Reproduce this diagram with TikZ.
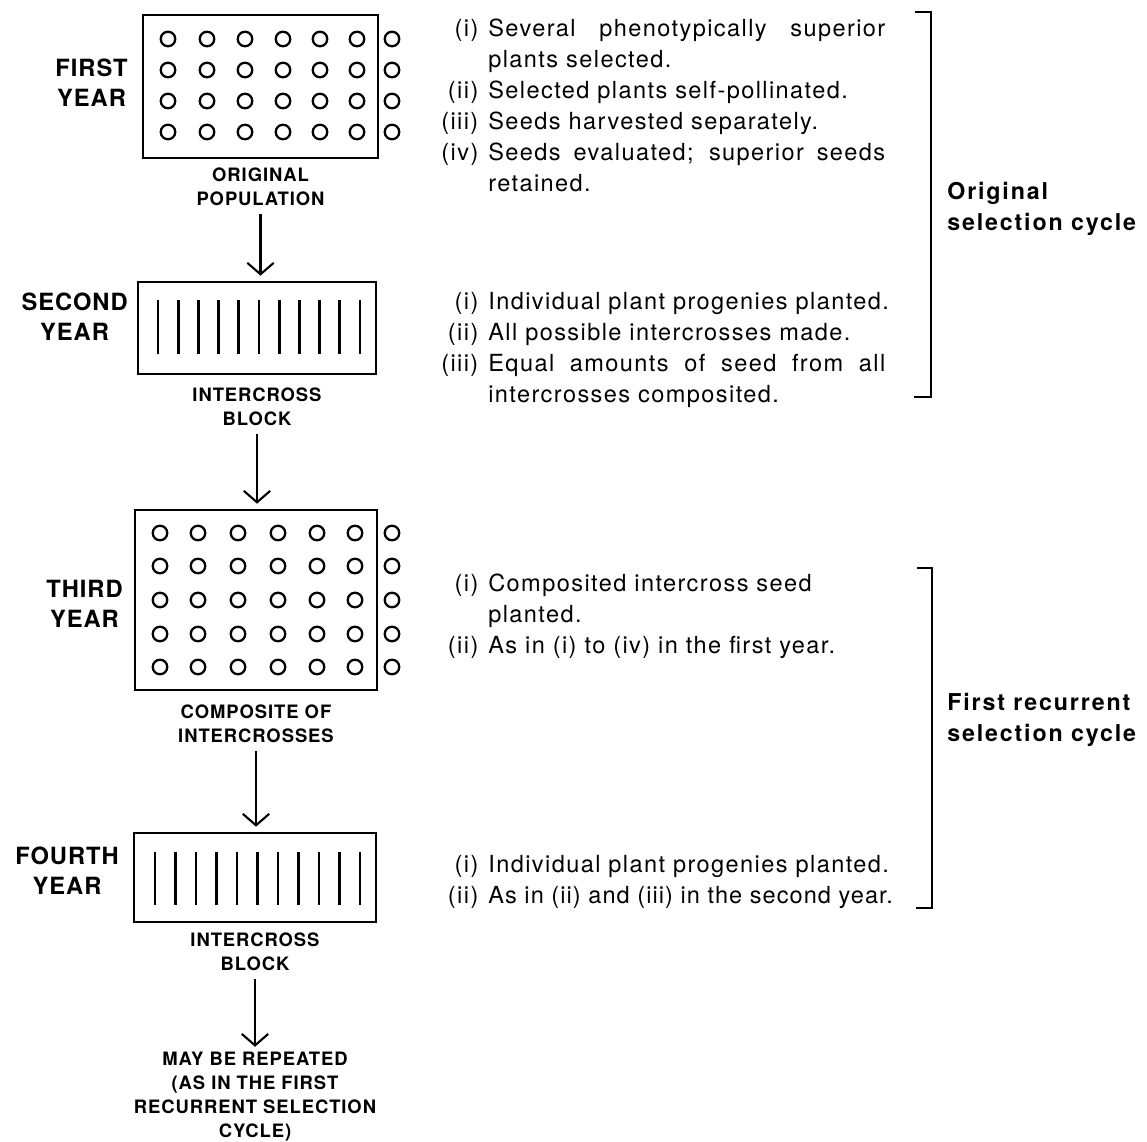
\documentclass[tikz,border=0pt]{standalone}
\usepackage{fontspec}
\setmainfont{TeX Gyre Heros}
\newfontfamily\stepfont[LetterSpace=6]{TeX Gyre Heros}
\newfontfamily\tightstepfont[LetterSpace=4.5]{TeX Gyre Heros}
\newfontfamily\tagfont[LetterSpace=4]{TeX Gyre Heros}
\newfontfamily\capfont[LetterSpace=5]{TeX Gyre Heros}
\newfontfamily\cyclefont[LetterSpace=8]{TeX Gyre Heros}
\usepackage{tikz}
\usetikzlibrary{arrows.meta}
\usetikzlibrary{positioning}
\newcommand{\itm}[2]{\makebox[0.96cm][r]{#1}\hspace*{0.2cm}#2}
\newcommand{\cnt}[1]{\hspace*{1.16cm}#1}
\newcommand{\just}[1]{\makebox[7.94cm][s]{#1}}

\begin{document}
\begin{tikzpicture}[x=0.02cm, y=-0.02cm, field/.style={rectangle, draw, line width=1.5pt, inner sep=0pt}, plant/.style={line width=1.3pt}, stalk/.style={line width=1.5pt}, yearlabel/.style={font=\tagfont\bfseries\fontsize{13.5}{17}\selectfont, align=center, inner sep=0pt, anchor=east}, fieldcaption/.style={font=\capfont\bfseries\fontsize{10.5}{13.6}\selectfont, align=center, inner sep=0pt}, stepitems/.style={font=\stepfont\fontsize{13.4}{17.6}\selectfont, align=left, inner sep=0pt, anchor=north west}, cyclelabel/.style={font=\cyclefont\bfseries\fontsize{13.2}{18}\selectfont, align=left, inner sep=0pt, anchor=west}, arrow/.style={line width=1.2pt, -{Straight Barb[length=6.5pt, width=15pt]}, shorten <=0.17cm, shorten >=0.1cm}, bracket/.style={line width=1.2pt}]
\useasboundingbox (0,0) rectangle (1147,1142);
\node [field, minimum width=4.7cm, minimum height=2.86cm] (pop1) at (260.5,86.5) {};
\node [field, minimum width=4.76cm, minimum height=1.84cm] (block2) at (257,328) {};
\node [field, minimum width=4.84cm, minimum height=3.6cm] (pop3) at (256,600) {};
\node [field, minimum width=4.84cm, minimum height=1.78cm] (block4) at (255,877.5) {};
\foreach \y in {39,70,101,132}
  \foreach \x in {168,207,245,283,320,357,392}
    \draw [plant] (\x,\y) circle [radius=0.145cm];
\foreach \y in {533,566,600,634,667}
  \foreach \x in {160,198,238,278,317,355,392}
    \draw [plant] (\x,\y) circle [radius=0.145cm];
\foreach \i in {0,...,10}
  \draw [stalk] ({158+20.2*\i},300) -- ({158+20.2*\i},354);
\foreach \i in {0,...,10}
  \draw [stalk] ({155+20.5*\i},852) -- ({155+20.5*\i},905);
\node [yearlabel] (yr1) at (128,83) {FIRST\\YEAR};
\node [yearlabel] (yr2) at (128,317) {SECOND\\YEAR};
\node [yearlabel] (yr3) at (123,604) {THIRD\\YEAR};
\node [yearlabel] (yr4) at (119,871) {FOURTH\\YEAR};
\node [fieldcaption, below=0.16cm of pop1] (cap1) {ORIGINAL\\POPULATION};
\node [fieldcaption, below=0.24cm of block2] (cap2) {INTERCROSS\\BLOCK};
\node [fieldcaption, below=0.26cm of pop3] (cap3) {COMPOSITE OF\\INTERCROSSES};
\node [fieldcaption, below=0.18cm of block4] (cap4) {INTERCROSS\\BLOCK};
\node [fieldcaption, below=1.62cm of cap4] (again) {MAY BE REPEATED\\(AS IN THE FIRST\\RECURRENT SELECTION\\CYCLE)};
\draw [arrow] (cap1.south) -- (cap1.south |- block2.north);
\draw [arrow] (cap2.south) -- (cap2.south |- pop3.north);
\draw [arrow] (cap3.south) -- (cap3.south |- block4.north);
\draw [arrow] (cap4.south) -- (again.north);
\node [stepitems] (steps1) at (430,19) {\itm{(i)}{\just{Several phenotypically superior}}\\ \cnt{plants selected.}\\ \itm{(ii)}{Selected plants self-pollinated.}\\ \itm{(iii)}{Seeds harvested separately.}\\ \itm{(iv)}{\just{Seeds evaluated; superior seeds}}\\ \cnt{retained.}};
\node [stepitems] (steps2) at (430,292) {\itm{(i)}{Individual plant progenies planted.}\\ \itm{(ii)}{All possible intercrosses made.}\\ \itm{(iii)}{\just{Equal amounts of seed from all}}\\ \cnt{intercrosses composited.}};
\node [stepitems] (steps3) at (430,574) {\itm{(i)}{Composited intercross seed}\\ \cnt{planted.}\\ \itm{(ii)}{As in (i) to (iv) in the first year.}};
\node [stepitems] (steps4) at (430,855) {\itm{(i)}{Individual plant progenies planted.}\\ \itm{(ii)}{{\tightstepfont As in (ii) and (iii) in the second year.}}};
\node [cyclelabel] (cycle1) at (947,209) {Original\\selection cycle};
\node [cyclelabel] (cycle2) at (947,720) {First recurrent\\selection cycle};
\draw [bracket] (915,12) -- (931,12) -- (931,397) -- (914,397);
\draw [bracket] (917,568) -- (932,568) -- (932,908) -- (916,908);
\end{tikzpicture}
\end{document}
